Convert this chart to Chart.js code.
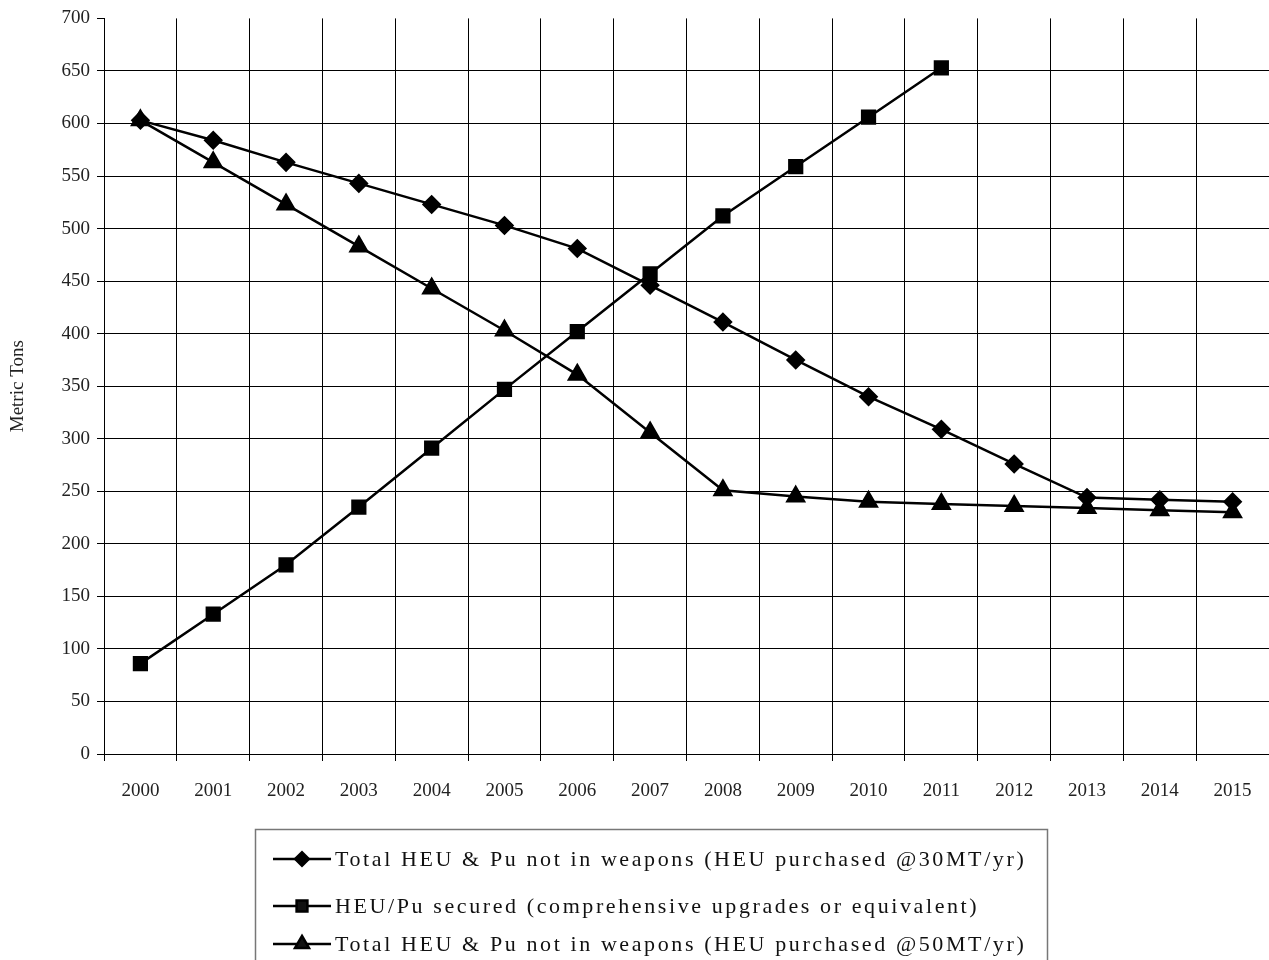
<!DOCTYPE html>
<html>
<head>
<meta charset="utf-8">
<script src="https://cdn.jsdelivr.net/npm/chart.js@4/dist/chart.umd.min.js"></script>
<style>
  html, body { margin: 0; padding: 0; background: #fff; overflow: hidden; }
  #wrap { width: 1269px; height: 960px; position: relative; }
  canvas { display: block; }
</style>
</head>
<body>
<div id="wrap"><canvas id="chart1"></canvas></div>
<script>
// data
const years = ['2000', '2001', '2002', '2003', '2004', '2005', '2006', '2007', '2008', '2009', '2010', '2011', '2012', '2013', '2014', '2015'];
const total30 = [603, 584, 563, 543, 523, 503, 481, 446, 411, 375, 340, 309, 276, 244, 242, 240];
const secured = [86, 133, 180, 235, 291, 347, 402, 457, 512, 559, 606, 653, null, null, null, null];
const total50 = [603, 563, 523, 483, 443, 403, 361, 306, 251, 245, 240, 238, 236, 234, 232, 230];

const seriesNames = [
    'Total HEU & Pu not in weapons (HEU purchased @30MT/yr)',
    'HEU/Pu secured (comprehensive upgrades or equivalent)',
    'Total HEU & Pu not in weapons (HEU purchased @50MT/yr)'
];

const serif = "'Liberation Serif', 'DejaVu Serif', serif";

// legend drawn in a box under the axis, like the original
const boxLegend = {
    id: 'boxLegend',
    afterDraw(chart) {
        const c = chart.ctx;
        c.save();
        c.strokeStyle = '#777';
        c.lineWidth = 1.5;
        c.strokeRect(255.5, 829.5, 792, 140);
        const rows = [859, 906, 944];
        chart.data.datasets.forEach((ds, i) => {
            const y = rows[i];
            c.strokeStyle = '#000';
            c.lineWidth = 2.5;
            c.beginPath();
            c.moveTo(273, y);
            c.lineTo(331, y);
            c.stroke();
            Chart.helpers.drawPoint(c, {pointStyle: ds.pointStyle, radius: ds.pointRadius * 0.85, borderWidth: 1}, 302, y);
            c.fillStyle = '#111';
            c.font = '22px ' + serif;
            c.letterSpacing = '2.6px';
            c.textBaseline = 'middle';
            c.fillText(seriesNames[i], 335, y + 1);
        });
        c.restore();
    }
};

const ctx = document.querySelector('#chart1');

const lineStyle = (label, data, style, r) => ({
    label: label,
    data: data,
    borderColor: '#000',
    backgroundColor: '#000',
    borderWidth: 2.5,
    pointStyle: style,
    pointRadius: r,
    pointHoverRadius: r,
    pointBackgroundColor: '#000',
    pointBorderColor: '#000',
    spanGaps: false
});

new Chart(ctx, {
    type: 'line',
    data: {
        labels: years,
        datasets: [
            lineStyle(seriesNames[0], total30, 'rectRot', 8),
            lineStyle(seriesNames[1], secured, 'rect', 9),
            lineStyle(seriesNames[2], total50, 'triangle', 9.5)
        ]
    },
    options: {
        responsive: true,
        maintainAspectRatio: false,
        animation: false,
        layout: {
            autoPadding: false,
            padding: {top: 17, right: 0, bottom: 0, left: 0}
        },
        plugins: {
            legend: {display: false},
            tooltip: {enabled: false}
        },
        scales: {
            x: {
                offset: true,
                grid: {
                    offset: true,
                    color: '#000',
                    lineWidth: 1,
                    tickLength: 7
                },
                border: {color: '#000', width: 1},
                ticks: {
                    color: '#222',
                    font: {family: serif, size: 19},
                    padding: 19,
                    maxRotation: 0,
                    autoSkip: false
                },
                afterFit(scale) {
                    scale.height = 206;
                    scale.paddingRight = 0;
                    scale.paddingLeft = 0;
                }
            },
            y: {
                min: 0,
                max: 700,
                ticks: {
                    stepSize: 50,
                    color: '#222',
                    font: {family: serif, size: 19},
                    padding: 7
                },
                grid: {
                    color: (c) => c.tick && c.tick.value === 700 ? 'rgba(0,0,0,0)' : '#000',
                    tickColor: '#000',
                    lineWidth: 1,
                    tickLength: 7
                },
                border: {color: '#000', width: 1},
                title: {
                    display: true,
                    text: 'Metric Tons',
                    color: '#222',
                    font: {family: serif, size: 19},
                    padding: {top: 7, bottom: 0}
                },
                afterFit(scale) {
                    scale.width = 104;
                }
            }
        }
    },
    plugins: [boxLegend]
});
</script>
</body>
</html>
